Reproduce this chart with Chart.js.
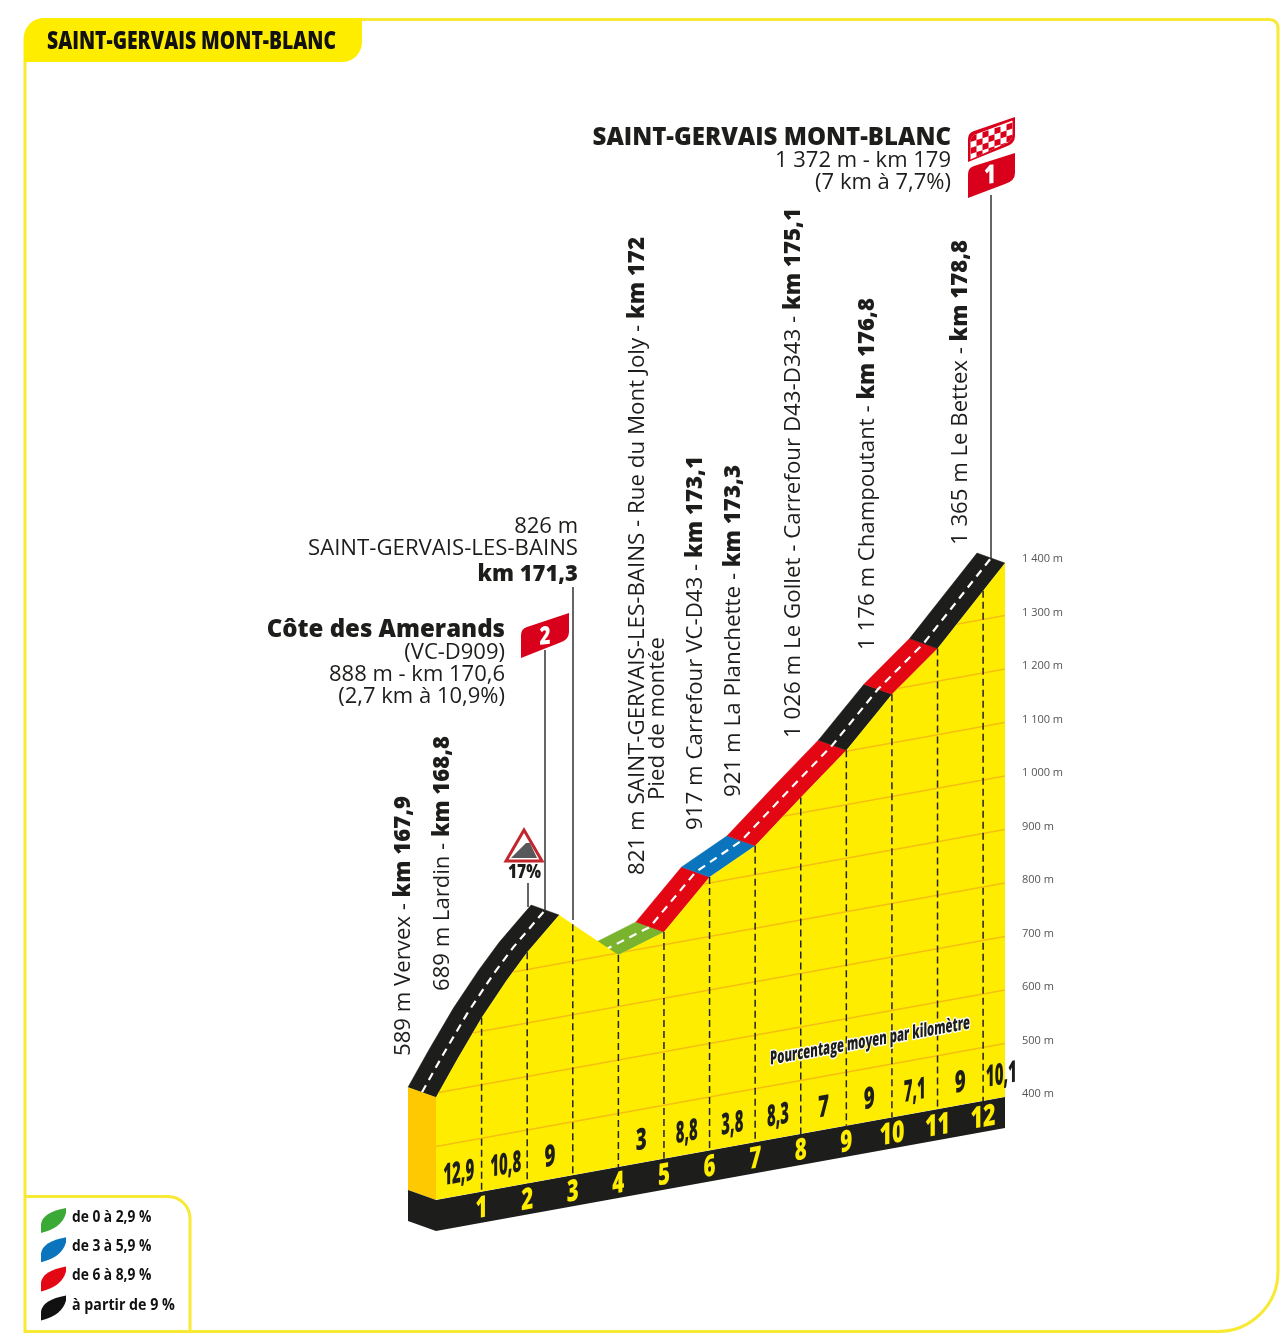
<!DOCTYPE html>
<html lang="fr">
<head>
<meta charset="utf-8">
<title>Saint-Gervais Mont-Blanc</title>
<script src="https://cdn.jsdelivr.net/npm/chart.js@4"></script>
<style>
  html, body { margin: 0; padding: 0; background: #fff; }
  canvas { display: block; }
</style>
</head>
<body>
<canvas id="profile" width="1280" height="1344"></canvas>
<script>
// profile (km from the left edge of the drawing, metres)
const profileKm = [0, 0.46, 1, 1.55, 2, 2.7, 3, 4, 5, 6, 7, 8, 9, 10, 11, 12.48];
const profileEle = [592, 655, 725, 787, 832, 891, 869, 796, 824, 911, 954, 1029, 1102, 1191, 1261, 1398];

// road ribbon: start km, end km, gradient class
const bandStart = [0, 4, 5, 6, 7, 9, 10, 11];
const bandEnd = [2.7, 5, 6, 7, 9, 10, 11, 12.48];
const bandClass = [3, 0, 2, 1, 2, 3, 2, 3];
const classColors = ['#7ab32e', '#0a75bd', '#e30613', '#1d1d1b'];

const yTicks = [400, 500, 600, 700, 800, 900, 1000, 1100, 1200, 1300, 1400];
const tickLabels = ['400 m', '500 m', '600 m', '700 m', '800 m', '900 m', '1 000 m', '1 100 m', '1 200 m', '1 300 m', '1 400 m'];

const kmMarks = [1, 2, 3, 4, 5, 6, 7, 8, 9, 10, 11, 12];
const pctKm = [0.5, 1.53, 2.5, 4.5, 5.5, 6.5, 7.5, 8.5, 9.5, 10.5, 11.5, 12.4];
const pctLabels = ['12,9', '10,8', '9', '3', '8,8', '3,8', '8,3', '7', '9', '7,1', '9', '10,1'];

const passNames = ['589 m Vervex - ', '689 m Lardin - ', '821 m SAINT-GERVAIS-LES-BAINS - Rue du Mont Joly - ', '917 m Carrefour VC-D43 - ', '921 m La Planchette - ', '1 026 m Le Gollet - Carrefour D43-D343 - ', '1 176 m Champoutant - ', '1 365 m Le Bettex - '];
const passKms = ['km 167,9', 'km 168,8', 'km 172', 'km 173,1', 'km 173,3', 'km 175,1', 'km 176,8', 'km 178,8'];

const legendLabels = ['de 0 à 2,9 %', 'de 3 à 5,9 %', 'de 6 à 8,9 %', 'à partir de 9 %'];
const legendColors = ['#3aa935', '#0a75bd', '#e30613', '#111111'];

const SHEAR = 0.181;
const RIGHT = 1005;
const BACK_X = -28, BACK_Y = -10;
const YELLOW = '#ffed00';
const INK = '#1d1d1b';
const FONT = '"Open Sans", "Noto Sans", sans-serif';

// screen position of a km/altitude pair, through the chart scales + the oblique view
const pt = (chart, km, ele) => {
    const x = chart.scales.x.getPixelForValue(km);
    return { x, y: chart.scales.y.getPixelForValue(ele) + SHEAR * (RIGHT - x) };
};

const eleAt = (km) => {
    for (let i = 1; i < profileKm.length; i++) {
        if (km <= profileKm[i]) {
            const t = (km - profileKm[i - 1]) / (profileKm[i] - profileKm[i - 1]);
            return profileEle[i - 1] + t * (profileEle[i] - profileEle[i - 1]);
        }
    }
    return profileEle[profileEle.length - 1];
};

// squeezed + sheared text, the source uses a condensed face
const squeezed = (ctx, text, cx, cy, font, width, color, shear, halo) => {
    ctx.save();
    ctx.font = font;
    const sx = width / ctx.measureText(text).width;
    ctx.translate(cx, cy);
    ctx.transform(sx, -shear * sx, 0, 1, 0, 0);
    ctx.textAlign = 'center';
    ctx.textBaseline = 'middle';
    if (halo) {
        ctx.lineJoin = 'round';
        ctx.lineWidth = halo;
        ctx.strokeStyle = '#fff';
        ctx.strokeText(text, 0, 0);
    }
    ctx.fillStyle = color;
    ctx.fillText(text, 0, 0);
    ctx.restore();
};

const rightText = (ctx, text, x, y, font) => {
    ctx.font = font;
    ctx.textAlign = 'right';
    ctx.textBaseline = 'middle';
    ctx.fillStyle = INK;
    ctx.fillText(text, x, y + 2);
};

// vertical label: regular part + bold km part, read bottom to top
const riseText = (ctx, name, km, x, yFrom, yTo) => {
    const reg = `400 22px ${FONT}`, bold = `800 22px ${FONT}`;
    ctx.save();
    ctx.translate(x + 1, yFrom);
    ctx.rotate(-Math.PI / 2);
    ctx.font = reg;
    const w1 = ctx.measureText(name).width;
    ctx.font = bold;
    const w2 = ctx.measureText(km).width;
    ctx.scale((yFrom - yTo) / (w1 + w2), 1);
    ctx.textAlign = 'left';
    ctx.textBaseline = 'middle';
    ctx.fillStyle = INK;
    ctx.font = reg;
    ctx.fillText(name, 0, 0);
    ctx.font = bold;
    ctx.fillText(km, w1, 0);
    ctx.restore();
};

const line = (ctx, x1, y1, x2, y2) => {
    ctx.beginPath();
    ctx.moveTo(x1, y1);
    ctx.lineTo(x2, y2);
    ctx.stroke();
};

const drawFrame = (ctx) => {
    ctx.save();
    ctx.strokeStyle = '#f7e934';
    ctx.lineWidth = 3;
    ctx.beginPath();
    ctx.roundRect(25, 19.5, 1253, 1312, [20, 8, 60, 0]);
    ctx.stroke();
    // legend box
    ctx.beginPath();
    ctx.moveTo(25, 1196.5);
    ctx.lineTo(168, 1196.5);
    ctx.arcTo(190, 1196.5, 190, 1218, 22);
    ctx.lineTo(190, 1332);
    ctx.stroke();
    // name tab
    ctx.fillStyle = YELLOW;
    ctx.beginPath();
    ctx.roundRect(24, 18, 338, 44, [20, 0, 20, 0]);
    ctx.fill();
    ctx.restore();
    squeezed(ctx, 'SAINT-GERVAIS MONT-BLANC', 191.5, 42, `800 25px ${FONT}`, 289, '#111', 0);

    legendLabels.forEach((label, i) => {
        const dy = i * 29.2;
        ctx.fillStyle = legendColors[i];
        ctx.beginPath();
        ctx.moveTo(41, 1233 + dy);
        ctx.lineTo(41, 1224 + dy);
        ctx.quadraticCurveTo(43, 1212 + dy, 66, 1208 + dy);
        ctx.lineTo(66, 1213 + dy);
        ctx.quadraticCurveTo(62, 1228 + dy, 41, 1233 + dy);
        ctx.fill();
        ctx.save();
        ctx.font = `700 16px ${FONT}`;
        ctx.textBaseline = 'middle';
        ctx.fillStyle = '#111';
        ctx.translate(72, 1217.5 + dy);
        ctx.scale(i === 3 ? 0.89 : 0.86, 1);
        ctx.fillText(label, 0, 0);
        ctx.restore();
    });
};

const drawSigns = (ctx) => {
    // connector stems
    ctx.strokeStyle = '#333';
    ctx.lineWidth = 1.5;
    line(ctx, 528, 883, 528, 907);
    line(ctx, 545, 650, 545, 911);
    line(ctx, 573, 587, 573, 920);
    line(ctx, 991, 195, 991, 558);

    // climb flags
    const flag = (x1, x2, yTL, yTR, h, fill) => {
        ctx.fillStyle = fill;
        ctx.beginPath();
        ctx.moveTo(x1, yTL + 6);
        ctx.quadraticCurveTo(x1, yTL, x1 + 6, yTL - 2);
        ctx.lineTo(x2, yTR);
        ctx.lineTo(x2, yTR + h - 10);
        ctx.quadraticCurveTo(x2, yTR + h - 2, x2 - 10, yTR + h + 1);
        ctx.lineTo(x1, yTL + h);
        ctx.closePath();
    };
    flag(521, 569, 629, 613, 29, '#d9001b');
    ctx.fill();
    squeezed(ctx, '2', 545, 637, `800 25px ${FONT}`, 11, '#fff', 0.1);

    flag(968, 1015, 168, 153, 30, '#d9001b');
    ctx.fill();
    squeezed(ctx, '1', 990, 176, `800 26px ${FONT}`, 12, '#fff', 0.1);

    // chequered arrival flag, red rim around the squares
    flag(968, 1015, 133, 117, 29, '#d9001b');
    ctx.fill();
    ctx.save();
    flag(970.5, 1012.5, 136, 120.5, 23.5, '#fff');
    ctx.fill();
    ctx.clip();
    ctx.translate(970.5, 136);
    ctx.transform(1, -0.32, 0, 1, 0, 0);
    ctx.fillStyle = '#d9001b';
    for (let c = 0; c < 7; c++) {
        for (let r = 0; r < 4; r++) {
            if ((c + r) % 2 === 0) ctx.fillRect(c * 6, r * 6, 6, 6);
        }
    }
    ctx.restore();

    // steep section warning
    ctx.beginPath();
    ctx.moveTo(524, 830);
    ctx.lineTo(542, 861);
    ctx.lineTo(506, 861);
    ctx.closePath();
    ctx.fillStyle = '#fff';
    ctx.fill();
    ctx.strokeStyle = '#c1272d';
    ctx.lineWidth = 3;
    ctx.lineJoin = 'miter';
    ctx.stroke();
    ctx.fillStyle = '#58585a';
    ctx.beginPath();
    ctx.moveTo(511, 858);
    ctx.lineTo(526, 843);
    ctx.lineTo(530, 843);
    ctx.lineTo(537, 858);
    ctx.closePath();
    ctx.fill();
    squeezed(ctx, '17%', 524.5, 873, `800 19px ${FONT}`, 33, INK, 0);
};

const drawTexts = (ctx) => {
    rightText(ctx, 'SAINT-GERVAIS MONT-BLANC', 951, 136, `800 24px ${FONT}`);
    rightText(ctx, '1 372 m - km 179', 951, 159, `400 22px ${FONT}`);
    rightText(ctx, '(7 km à 7,7%)', 951, 181, `400 22px ${FONT}`);

    rightText(ctx, '826 m', 578, 525, `400 22px ${FONT}`);
    rightText(ctx, 'SAINT-GERVAIS-LES-BAINS', 578, 547, `400 22.2px ${FONT}`);
    rightText(ctx, 'km 171,3', 578, 573, `800 22px ${FONT}`);

    rightText(ctx, 'Côte des Amerands', 505, 628, `800 24px ${FONT}`);
    rightText(ctx, '(VC-D909)', 505, 651, `400 22px ${FONT}`);
    rightText(ctx, '888 m - km 170,6', 505, 673, `400 22px ${FONT}`);
    rightText(ctx, '(2,7 km à 10,9%)', 505, 695, `400 22px ${FONT}`);

    const passPos = [[403, 1056, 796], [442, 991, 736], [637, 875, 237], [695, 830, 456], [733, 797, 465], [793, 738, 208], [867, 650, 298], [960, 545, 240]];
    passNames.forEach((name, i) => riseText(ctx, name, passKms[i], ...passPos[i]));
    riseText(ctx, 'Pied de montée', '', 657, 800, 637);
};

const profilePlugin = {
    id: 'profileView',
    beforeDatasetsDraw(chart) {
        const { ctx } = chart;
        drawFrame(ctx);

        // road ribbon goes under the yellow face, the descent hides its start
        ctx.save();
        bandStart.forEach((from, i) => {
            const kms = profileKm.filter(k => k >= from && k <= bandEnd[i]);
            const front = kms.map(k => pt(chart, k, eleAt(k)));
            ctx.beginPath();
            front.forEach((p, j) => (j ? ctx.lineTo(p.x, p.y) : ctx.moveTo(p.x, p.y)));
            front.slice().reverse().forEach(p => ctx.lineTo(p.x + BACK_X, p.y + BACK_Y));
            ctx.closePath();
            ctx.fillStyle = ctx.strokeStyle = classColors[bandClass[i]];
            ctx.lineWidth = 0.5;
            ctx.fill();
            ctx.stroke();
        });
        // centre dashes
        ctx.strokeStyle = '#fff';
        ctx.lineWidth = 2.2;
        ctx.setLineDash([8, 6]);
        [[0, 2.7], [4, 12.48]].forEach(([a, b]) => {
            ctx.beginPath();
            profileKm.filter(k => k >= a && k <= b).forEach((k, j) => {
                const p = pt(chart, k, eleAt(k));
                const x = p.x + BACK_X / 2, y = p.y + BACK_Y / 2;
                j ? ctx.lineTo(x, y) : ctx.moveTo(x, y);
            });
            ctx.stroke();
        });
        ctx.restore();

        // left side of the block and the black ground band
        const topL = pt(chart, 0, profileEle[0]), baseL = pt(chart, 0, 400), baseR = pt(chart, 12.48, 400);
        const GROUND = 31 / 0.535;
        const lowL = pt(chart, 0, 400 - GROUND), lowR = pt(chart, 12.48, 400 - GROUND);
        ctx.fillStyle = '#fec900';
        ctx.beginPath();
        ctx.moveTo(topL.x + BACK_X, topL.y + BACK_Y);
        ctx.lineTo(topL.x, topL.y);
        ctx.lineTo(baseL.x, baseL.y);
        ctx.lineTo(baseL.x + BACK_X, baseL.y + BACK_Y);
        ctx.fill();
        ctx.fillStyle = INK;
        ctx.beginPath();
        ctx.moveTo(baseL.x + BACK_X, baseL.y + BACK_Y);
        ctx.lineTo(baseL.x, baseL.y);
        ctx.lineTo(baseR.x, baseR.y);
        ctx.lineTo(lowR.x, lowR.y);
        ctx.lineTo(lowL.x, lowL.y);
        ctx.lineTo(lowL.x + BACK_X, lowL.y + BACK_Y);
        ctx.fill();

        // everything the library draws next sits on the oblique plane
        ctx.save();
        ctx.transform(1, -SHEAR, 0, 1, 0, SHEAR * RIGHT);
    },
    afterDatasetsDraw(chart) {
        const { ctx } = chart;
        ctx.restore();

        // altitude lines, only on the yellow face
        ctx.save();
        ctx.beginPath();
        profileKm.forEach((k, j) => {
            const p = pt(chart, k, profileEle[j]);
            j ? ctx.lineTo(p.x, p.y) : ctx.moveTo(p.x, p.y);
        });
        const br = pt(chart, 12.48, 400), bl = pt(chart, 0, 400);
        ctx.lineTo(br.x, br.y);
        ctx.lineTo(bl.x, bl.y);
        ctx.closePath();
        ctx.clip();
        ctx.strokeStyle = '#f4bf12';
        ctx.lineWidth = 1.5;
        yTicks.slice(1, -1).forEach(v => {
            const a = pt(chart, 0, v), b = pt(chart, 12.48, v);
            line(ctx, a.x, a.y, b.x, b.y);
        });
        ctx.restore();

        drawSigns(ctx);

        // km drop lines, numbers in the band, gradients
        ctx.save();
        ctx.strokeStyle = '#222';
        ctx.lineWidth = 1.5;
        ctx.setLineDash([7, 4]);
        kmMarks.forEach(k => {
            const a = pt(chart, k, eleAt(k)), b = pt(chart, k, 400);
            line(ctx, a.x, a.y, b.x, b.y);
        });
        ctx.restore();

        kmMarks.forEach(k => {
            const p = pt(chart, k, 368);
            const w = k > 9 ? 25 : 12;
            squeezed(ctx, String(k), p.x, p.y, `800 30px ${FONT}`, w, YELLOW, SHEAR);
        });
        pctLabels.forEach((label, i) => {
            const p = pt(chart, pctKm[i], 441);
            const w = label.length === 4 ? 31 : label.length === 3 ? 22 : 11;
            squeezed(ctx, label, p.x, p.y, `800 30px ${FONT}`, w, INK, SHEAR);
        });
        const c = pt(chart, 9.52, 550);
        squeezed(ctx, 'Pourcentage moyen par kilomètre', c.x, c.y, `800 19px ${FONT}`, 200, INK, SHEAR, 3);

        drawTexts(ctx);
    }
};

new Chart(document.getElementById('profile'), {
    type: 'line',
    data: {
        datasets: [{
            label: 'Altitude',
            data: profileKm.map((k, i) => ({ x: k, y: profileEle[i] })),
            backgroundColor: YELLOW,
            borderWidth: 0,
            pointRadius: 0,
            tension: 0,
            clip: false,
            fill: { value: 400 }
        }]
    },
    options: {
        responsive: false,
        animation: false,
        events: [],
        layout: { padding: { left: 436, right: 200, top: 562, bottom: 247 } },
        plugins: { legend: { display: false }, tooltip: { enabled: false } },
        scales: {
            x: { type: 'linear', min: 0, max: 12.48, display: false },
            y: {
                position: 'right',
                min: 400,
                max: 1400,
                grid: { display: false },
                border: { display: false },
                afterFit: (scale) => { scale.width = 75; },
                afterBuildTicks: (scale) => { scale.ticks = yTicks.map(value => ({ value })); },
                ticks: {
                    autoSkip: false,
                    padding: 9,
                    labelOffset: -3,
                    color: '#555',
                    font: { family: '"Open Sans"', size: 11 },
                    callback: (v, i) => tickLabels[i]
                }
            }
        }
    },
    plugins: [profilePlugin]
});
</script>
</body>
</html>
